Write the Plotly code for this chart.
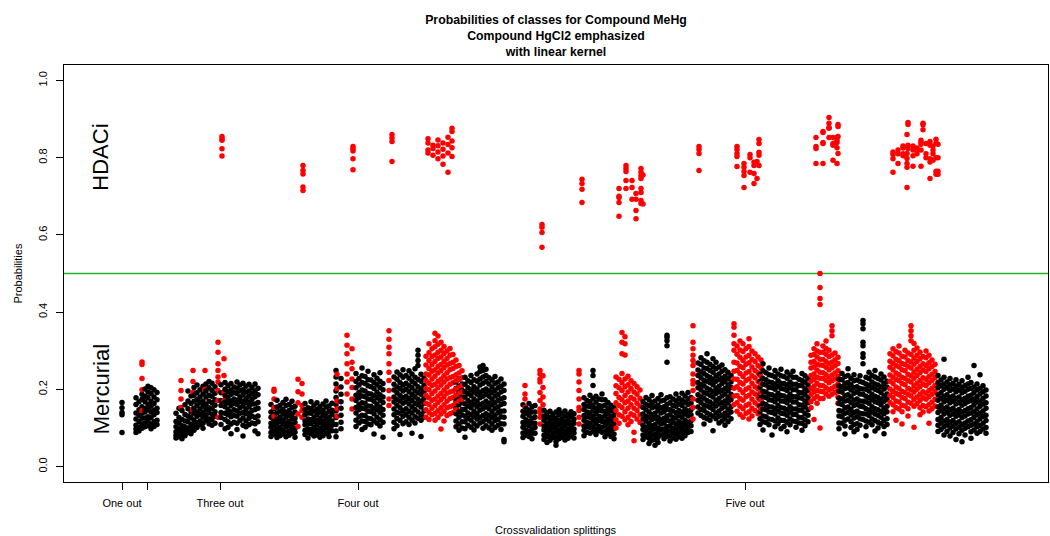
import plotly.graph_objects as go

# ---------------- data (x = position along the splitting axis, y = probability x 1000) ------------
TICK_POS = [122, 147, 220, 358, 745]
TICK_TEXT = ["One out", "", "Three out", "Four out", "Five out"]
Y_TICKS = [0.0, 0.2, 0.4, 0.6, 0.8, 1.0]
Y_TICK_TEXT = ["0.0", "0.2", "0.4", "0.6", "0.8", "1.0"]
X_RANGE = [64, 1048]
Y_RANGE = [-0.04, 1.04]
THRESHOLD = 0.5

one_out_black = [(122, [166, 152, 140, 134, 88])]
one_out_red = []

two_out_black = [
    (136, [178, 161, 139, 123, 107, 97, 88]),
    (139, [168, 147, 133, 116, 102, 92]),
    (142, [187, 174, 155, 138, 125, 110, 99]),
    (145, [201, 182, 168, 150, 141, 126, 113, 103]),
    (148, [208, 193, 178, 160, 147, 129, 120, 106]),
    (151, [204, 189, 169, 156, 141, 127, 110, 98]),
    (154, [199, 180, 163, 146, 134, 116, 104]),
    (157, [192, 173, 151, 140, 120, 109]),
]
two_out_red = [(142, [271, 264, 228, 199, 145])]

three_out_black = [
    (176, [138, 117, 103, 90, 81, 74]),
    (179, [151, 127, 113, 98, 87, 77]),
    (182, [145, 122, 106, 96, 83, 72]),
    (185, [160, 135, 118, 103, 93, 80]),
    (188, [196, 170, 150, 130, 116, 99, 88]),
    (191, [183, 163, 141, 127, 109, 98, 85]),
    (194, [205, 185, 169, 151, 138, 120, 107, 94]),
    (197, [211, 191, 173, 159, 142, 130, 113, 101]),
    (200, [199, 180, 166, 149, 135, 118, 108]),
    (203, [208, 188, 169, 156, 140, 128, 112, 99]),
    (206, [214, 196, 180, 160, 147, 132, 119]),
    (209, [220, 204, 185, 169, 152, 140, 123, 111]),
    (212, [216, 197, 182, 165, 151, 135, 122, 107]),
    (215, [207, 190, 173, 159, 142, 130, 112]),
    (221, [212, 191, 171, 158, 140, 127, 109]),
    (225, [218, 200, 184, 167, 155, 138, 122, 98]),
    (228, [209, 194, 178, 165, 148, 134, 116, 102]),
    (231, [215, 198, 187, 170, 158, 141, 129, 110, 85]),
    (234, [206, 191, 175, 163, 147, 132, 115]),
    (237, [219, 203, 189, 172, 161, 144, 130, 112, 96]),
    (240, [211, 197, 180, 168, 152, 138, 119]),
    (243, [216, 199, 186, 169, 157, 140, 126, 107, 79]),
    (246, [208, 193, 177, 165, 149, 137, 118, 103]),
    (249, [213, 196, 183, 167, 155, 138, 125, 108]),
    (252, [205, 190, 174, 162, 145, 131, 113]),
    (255, [214, 195, 181, 162, 148, 127, 111, 92]),
    (258, [203, 186, 166, 151, 131, 116, 85]),
]
three_out_red = [
    (181, [223, 197, 175, 153]),
    (193, [249, 220, 192, 150, 142]),
    (205, [249, 200]),
    (218, [322, 296, 266, 249, 232, 219, 197, 171, 128]),
    (224, [279, 236, 192, 171]),
    (222, [855, 849, 845, 823, 804]),
]

four_out_black = [
    (271, [161, 141, 128, 112, 102, 88, 78]),
    (274, [150, 135, 118, 107, 93, 84]),
    (277, [172, 154, 139, 123, 112, 98, 87, 75]),
    (280, [158, 144, 128, 117, 102, 92, 80]),
    (283, [166, 148, 136, 120, 110, 95, 84]),
    (286, [174, 158, 140, 128, 113, 103, 89, 77]),
    (289, [161, 145, 132, 117, 106, 92, 81]),
    (292, [169, 153, 136, 124, 109, 99, 86]),
    (295, [156, 141, 125, 114, 99, 89, 76]),
    (305, [163, 147, 134, 118, 108, 94, 83]),
    (308, [152, 139, 123, 112, 98, 88, 74]),
    (311, [168, 150, 138, 121, 111, 96, 85]),
    (314, [159, 144, 128, 117, 102, 92, 79]),
    (317, [165, 148, 135, 119, 109, 94, 82]),
    (320, [155, 141, 125, 114, 99, 89, 76]),
    (323, [162, 145, 132, 117, 106, 92, 80]),
    (326, [170, 154, 137, 125, 111, 100, 86]),
    (329, [157, 143, 127, 115, 101, 91, 78]),
    (332, [164, 146, 134, 118, 107, 93]),
    (336, [249, 232, 214, 196, 179, 161, 144, 127, 109, 92, 77]),
    (341, [228, 206, 187, 168, 151, 133, 115, 98]),
    (356, [241, 220, 204, 185, 171, 153, 139, 120, 104]),
    (359, [228, 211, 192, 178, 160, 147, 129, 113]),
    (362, [255, 235, 218, 198, 183, 165, 151, 133, 118, 96]),
    (365, [233, 215, 196, 181, 164, 150, 132, 117, 101]),
    (368, [247, 225, 209, 189, 175, 157, 143, 125, 110]),
    (371, [224, 207, 188, 174, 156, 142, 124, 108]),
    (374, [238, 218, 202, 184, 169, 151, 137, 118, 84]),
    (377, [229, 212, 193, 179, 161, 147, 128, 112]),
    (380, [243, 221, 205, 186, 172, 154, 140, 121, 105]),
    (383, [215, 199, 180, 166, 148, 133, 115, 76]),
    (394, [232, 213, 198, 180, 167, 149, 134, 115, 98]),
    (397, [245, 226, 206, 191, 173, 159, 140, 125, 106]),
    (400, [238, 218, 202, 184, 170, 152, 138, 119, 83]),
    (403, [251, 231, 211, 196, 178, 164, 145, 130, 111]),
    (406, [236, 216, 200, 182, 168, 150, 135, 116]),
    (409, [248, 229, 209, 194, 176, 162, 143, 128, 109]),
    (412, [240, 220, 204, 186, 172, 154, 139, 120, 86]),
    (415, [253, 231, 215, 196, 181, 163, 148, 129, 113]),
    (418, [301, 288, 275, 262, 226, 207, 192, 174, 160, 141, 125]),
    (421, [239, 221, 201, 187, 169, 154, 135, 120, 78]),
    (424, [229, 210, 195, 177, 163, 144, 128]),
    (456, [219, 202, 183, 169, 151, 137, 118, 103]),
    (459, [227, 208, 192, 174, 160, 142, 128, 110, 94]),
    (462, [214, 198, 180, 166, 148, 134, 116, 100]),
    (465, [231, 213, 194, 180, 162, 148, 130, 116, 98, 76]),
    (468, [222, 204, 189, 171, 157, 139, 125, 107]),
    (471, [236, 218, 198, 184, 166, 152, 134, 120, 102]),
    (474, [225, 207, 193, 175, 161, 143, 129, 111, 95]),
    (477, [240, 221, 201, 187, 169, 155, 137, 123, 105]),
    (480, [258, 246, 227, 211, 192, 178, 160, 146, 128, 113]),
    (483, [262, 249, 232, 216, 197, 182, 164, 150, 132, 117, 99]),
    (486, [252, 236, 220, 201, 187, 169, 155, 137, 123, 106]),
    (489, [230, 214, 196, 182, 164, 150, 132, 118, 100]),
    (492, [224, 206, 192, 174, 160, 142, 128, 110, 94]),
    (495, [233, 216, 197, 183, 165, 151, 133, 119, 101]),
    (498, [219, 204, 186, 172, 154, 140, 122, 107]),
    (501, [227, 208, 193, 175, 161, 143, 129, 111, 96]),
    (504, [214, 197, 178, 163, 144, 128, 110, 70, 64]),
]
four_out_red = [
    (274, [200, 195, 175, 153, 130]),
    (298, [226, 194, 165, 136, 104]),
    (302, [215, 188, 158, 145, 128]),
    (337, [239, 202, 170, 150, 130]),
    (347, [340, 314, 292, 266, 240, 219, 188]),
    (352, [305, 270, 253, 227, 205, 175, 149]),
    (389, [352, 330, 309, 292, 266, 244, 223, 197, 175, 158]),
    (426, [286, 263, 240, 223, 202, 185, 164, 147, 128]),
    (429, [318, 295, 275, 254, 237, 216, 199, 178, 161, 140, 122]),
    (432, [305, 285, 264, 247, 227, 210, 189, 172, 151, 134]),
    (435, [345, 326, 310, 289, 272, 251, 234, 213, 196, 175, 158, 138, 120]),
    (438, [338, 317, 296, 280, 259, 242, 221, 204, 183, 166, 145, 127]),
    (441, [322, 301, 284, 264, 248, 227, 211, 190, 173, 152, 136, 97]),
    (444, [311, 293, 272, 256, 235, 219, 198, 181, 160, 143, 118]),
    (447, [299, 280, 263, 243, 227, 206, 190, 169, 152, 132]),
    (450, [306, 288, 267, 251, 230, 213, 193, 176, 155, 137]),
    (453, [290, 270, 254, 233, 217, 196, 179, 158, 140]),
    (456, [276, 259, 238, 222, 201, 185, 164, 147]),
    (459, [262, 242, 226, 205, 189, 169]),
    (462, [248, 230, 210, 193, 174]),
    (303, [780, 767, 758, 724, 715]),
    (353, [829, 823, 817, 797, 769]),
    (392, [860, 851, 842, 790]),
    (428, [849, 838, 820, 812]),
    (433, [832, 824, 806]),
    (438, [846, 831, 815, 797]),
    (443, [838, 822, 804, 783]),
    (448, [853, 834, 812, 762]),
    (452, [876, 868, 843, 826, 803]),
]

five_out_black = [
    (523, [160, 143, 130, 114, 102, 87, 75]),
    (526, [151, 138, 121, 109, 94, 82]),
    (529, [163, 146, 133, 117, 105, 90, 78]),
    (532, [155, 141, 125, 112, 97, 86, 72]),
    (535, [158, 141, 128, 112, 101, 86]),
    (544, [146, 131, 120, 105, 95, 81, 70]),
    (547, [139, 127, 112, 102, 88, 78, 62]),
    (550, [143, 128, 117, 103, 93, 79, 68]),
    (553, [136, 124, 110, 100, 86, 75]),
    (556, [141, 126, 115, 101, 91, 77, 65, 55]),
    (559, [147, 135, 120, 109, 95, 85, 72]),
    (562, [138, 124, 113, 99, 89, 76]),
    (565, [144, 131, 116, 106, 92, 82, 69]),
    (568, [135, 121, 110, 96, 86, 73]),
    (571, [142, 129, 114, 104, 90, 79]),
    (574, [137, 123, 112, 97, 87, 74]),
    (584, [178, 161, 148, 132, 120, 105, 94, 80]),
    (587, [171, 157, 141, 129, 114, 103, 89]),
    (590, [185, 168, 155, 139, 127, 112, 101, 86]),
    (593, [249, 236, 210, 176, 159, 146, 130, 118, 103, 91]),
    (596, [182, 167, 150, 138, 122, 111, 96, 83]),
    (599, [175, 158, 146, 130, 119, 104, 93]),
    (602, [188, 173, 156, 144, 128, 117, 102, 89]),
    (605, [173, 159, 143, 131, 116, 105, 90, 77]),
    (608, [166, 150, 138, 123, 112, 97, 85]),
    (611, [159, 145, 129, 118, 103, 92, 78]),
    (614, [152, 137, 125, 110, 99, 84, 72]),
    (643, [168, 153, 136, 123, 107, 96, 82, 70]),
    (646, [179, 161, 147, 130, 118, 102, 90, 77]),
    (649, [173, 158, 141, 128, 112, 100, 86, 73, 60]),
    (652, [184, 166, 152, 135, 122, 106, 94, 81, 68]),
    (655, [170, 155, 138, 125, 109, 97, 83, 70, 55]),
    (658, [176, 159, 145, 128, 116, 100, 88, 75, 62]),
    (661, [186, 170, 152, 139, 122, 110, 96, 82]),
    (664, [172, 155, 142, 125, 113, 97, 85, 72]),
    (667, [340, 335, 326, 313, 270, 178, 161, 148, 131, 119, 103, 91, 78]),
    (670, [181, 165, 147, 134, 118, 106, 92, 79, 66]),
    (673, [175, 158, 144, 127, 115, 99, 87, 74]),
    (676, [188, 170, 156, 139, 126, 110, 97, 84, 71]),
    (679, [177, 162, 145, 132, 116, 104, 90, 77]),
    (682, [190, 172, 158, 141, 128, 112, 99, 86, 73]),
    (685, [183, 167, 149, 136, 119, 107, 93, 80]),
    (688, [192, 175, 161, 144, 131, 115, 102, 88]),
    (691, [179, 164, 147, 134, 118, 106, 91]),
    (698, [268, 250, 236, 218, 204, 186, 172, 154, 139]),
    (701, [282, 264, 245, 230, 212, 198, 180, 166, 148, 132]),
    (704, [274, 255, 241, 223, 209, 191, 177, 159, 145, 127, 110]),
    (707, [292, 270, 254, 235, 221, 203, 189, 171, 157, 139, 124]),
    (710, [265, 249, 231, 217, 199, 185, 167, 153, 135, 120]),
    (713, [279, 259, 244, 226, 212, 194, 180, 162, 148, 130, 93]),
    (716, [270, 253, 235, 221, 203, 189, 171, 157, 139, 124]),
    (719, [258, 240, 226, 208, 194, 176, 162, 144, 130, 113]),
    (722, [263, 247, 229, 215, 197, 183, 165, 151, 133, 118]),
    (725, [251, 234, 220, 202, 188, 170, 156, 138, 124, 107]),
    (728, [244, 229, 211, 197, 179, 165, 147, 133, 116]),
    (731, [236, 219, 205, 187, 173, 155, 141, 124]),
    (760, [238, 220, 206, 188, 174, 156, 142, 124, 109]),
    (763, [266, 248, 228, 213, 195, 181, 163, 149, 131, 116, 95]),
    (766, [243, 225, 211, 193, 179, 161, 147, 129, 114]),
    (769, [255, 238, 219, 205, 187, 173, 155, 141, 123, 108]),
    (772, [236, 218, 204, 186, 172, 154, 140, 122, 82]),
    (775, [249, 232, 214, 200, 182, 168, 150, 136, 118, 103]),
    (778, [240, 222, 208, 190, 176, 158, 144, 126, 111]),
    (781, [252, 235, 216, 202, 184, 170, 152, 138, 120, 98]),
    (784, [233, 215, 201, 183, 169, 151, 137, 119, 104]),
    (787, [245, 229, 211, 197, 179, 165, 147, 133, 115, 90]),
    (790, [237, 219, 205, 187, 173, 155, 141, 123, 108]),
    (793, [247, 231, 213, 199, 181, 167, 149, 135, 118]),
    (796, [231, 213, 199, 181, 167, 149, 135, 117, 102]),
    (799, [226, 210, 192, 178, 160, 146, 128, 113]),
    (802, [241, 223, 209, 191, 177, 159, 145, 127, 112, 94]),
    (805, [235, 219, 201, 187, 169, 155, 137, 121, 106]),
    (808, [229, 211, 197, 179, 165, 147, 133, 116]),
    (839, [226, 209, 195, 177, 163, 145, 131, 113, 98]),
    (842, [241, 225, 207, 193, 175, 161, 143, 129, 112]),
    (845, [233, 216, 202, 184, 170, 152, 138, 120, 105, 84]),
    (848, [253, 236, 218, 204, 186, 172, 154, 140, 123]),
    (851, [229, 212, 198, 180, 166, 148, 134, 116, 101]),
    (854, [238, 222, 204, 190, 172, 158, 140, 126, 109, 90]),
    (857, [224, 207, 193, 175, 161, 143, 129, 111, 96]),
    (860, [235, 220, 202, 188, 170, 156, 138, 124, 107]),
    (863, [378, 370, 357, 322, 313, 292, 283, 266, 218, 201, 187, 169, 155, 137, 122]),
    (866, [231, 214, 200, 182, 168, 150, 136, 118, 103, 80]),
    (869, [244, 228, 210, 196, 178, 164, 146, 132, 115]),
    (872, [236, 219, 205, 187, 173, 155, 141, 123, 108]),
    (875, [249, 232, 214, 200, 182, 168, 150, 136, 119, 92]),
    (878, [228, 211, 197, 179, 165, 147, 133, 115, 100]),
    (881, [240, 224, 206, 192, 174, 160, 142, 128, 111]),
    (884, [232, 215, 201, 183, 169, 151, 137, 119, 104, 85]),
    (887, [221, 206, 188, 174, 156, 142, 124, 109]),
    (938, [236, 218, 204, 186, 172, 154, 140, 122, 107, 91]),
    (941, [224, 209, 191, 177, 159, 145, 127, 113, 96]),
    (944, [278, 231, 214, 200, 182, 168, 150, 136, 118, 103, 82]),
    (947, [219, 204, 186, 172, 154, 140, 122, 108, 91]),
    (950, [228, 211, 197, 179, 165, 147, 133, 115, 100, 79]),
    (953, [216, 201, 183, 169, 151, 137, 119, 105, 88]),
    (956, [225, 208, 194, 176, 162, 144, 130, 112, 97, 70]),
    (959, [213, 198, 180, 166, 148, 134, 116, 102, 85]),
    (962, [222, 205, 191, 173, 159, 141, 127, 109, 94, 64]),
    (965, [210, 195, 177, 163, 145, 131, 113, 99, 82]),
    (968, [231, 214, 200, 182, 168, 150, 136, 118, 103]),
    (971, [218, 203, 185, 171, 153, 139, 121, 107, 90, 73]),
    (974, [262, 206, 192, 174, 160, 142, 128, 110, 95]),
    (977, [214, 199, 181, 167, 149, 135, 117, 103, 86]),
    (980, [238, 202, 188, 170, 156, 138, 124, 106, 91]),
    (983, [209, 194, 176, 162, 144, 130, 112, 97]),
    (986, [198, 183, 165, 151, 133, 119, 101, 86]),
]
five_out_red = [
    (525, [210, 188, 175, 153]),
    (540, [249, 240, 227, 219, 192, 171, 149, 140, 128, 110]),
    (543, [235, 205, 180, 160]),
    (579, [249, 240, 219, 197, 175, 153, 145, 128, 110]),
    (616, [232, 209, 189, 165, 145, 121, 100]),
    (619, [226, 204, 179, 158, 134, 112]),
    (622, [347, 322, 292, 241, 217, 197, 173, 153, 130]),
    (625, [336, 318, 289, 227, 207, 184, 165, 142, 121]),
    (628, [234, 212, 193, 170, 151, 128, 108]),
    (631, [222, 202, 179, 160, 137, 117]),
    (634, [215, 193, 174, 151, 132, 89, 67]),
    (637, [207, 187, 164, 145, 123]),
    (640, [198, 176, 157, 134, 114]),
    (693, [365, 322, 305, 288, 275, 262, 240, 223, 214, 197, 175, 153, 123]),
    (734, [370, 361, 340, 318, 301, 270, 247, 227, 203, 183, 160]),
    (737, [312, 291, 268, 249, 226, 207, 184, 165, 143]),
    (740, [325, 302, 283, 260, 241, 218, 199, 176, 156, 135]),
    (743, [318, 298, 275, 256, 233, 214, 191, 172, 150, 128]),
    (746, [306, 284, 265, 242, 223, 200, 181, 158, 138]),
    (749, [331, 311, 288, 269, 246, 227, 204, 185, 162, 142, 123]),
    (752, [299, 277, 258, 235, 216, 193, 174, 151, 131]),
    (755, [292, 272, 249, 230, 207, 188, 165, 145]),
    (758, [284, 262, 243, 220, 201, 178, 159, 137]),
    (761, [276, 256, 233, 214, 191, 172, 150]),
    (811, [288, 270, 255, 236, 221, 202, 187, 168, 152]),
    (814, [305, 290, 272, 258, 240, 226, 208, 194, 176, 122]),
    (817, [318, 299, 284, 265, 250, 231, 216, 197, 182, 164]),
    (820, [500, 464, 435, 420, 296, 278, 263, 244, 229, 210, 195, 176, 100]),
    (823, [312, 296, 277, 262, 243, 228, 209, 194, 176]),
    (826, [325, 306, 291, 272, 257, 238, 223, 204, 188]),
    (829, [301, 285, 266, 251, 232, 217, 198, 182]),
    (832, [365, 352, 339, 289, 271, 256, 237, 222, 203, 187]),
    (835, [294, 276, 261, 242, 227, 208, 192]),
    (838, [283, 267, 248, 233, 214, 199, 180, 164]),
    (890, [292, 273, 257, 237, 221, 201, 185, 166]),
    (893, [305, 287, 267, 251, 231, 215, 195, 179, 160, 142]),
    (896, [298, 278, 262, 242, 226, 206, 190, 170, 153, 120]),
    (899, [312, 294, 274, 258, 238, 222, 202, 186, 167, 149]),
    (902, [286, 267, 251, 231, 215, 195, 179, 159, 142, 110]),
    (905, [301, 284, 264, 248, 228, 212, 192, 176, 157]),
    (908, [294, 275, 259, 239, 223, 203, 187, 167, 150, 131]),
    (911, [365, 352, 339, 326, 290, 271, 255, 235, 219, 199, 183, 164]),
    (914, [319, 301, 281, 265, 245, 229, 209, 193, 174, 156, 102]),
    (917, [307, 288, 272, 252, 236, 216, 200, 180, 163]),
    (920, [296, 279, 259, 243, 223, 207, 187, 171, 152, 134]),
    (923, [285, 266, 250, 230, 214, 194, 178, 158, 141]),
    (926, [299, 282, 262, 246, 226, 210, 190, 174, 155]),
    (929, [288, 269, 253, 233, 217, 197, 181, 161, 144, 112]),
    (932, [276, 259, 239, 223, 203, 187, 167, 150]),
    (935, [265, 246, 230, 210, 194, 174, 157]),
    (542, [627, 620, 606, 568]),
    (582, [744, 733, 718, 684]),
    (619, [720, 700, 697, 684, 648]),
    (626, [780, 772, 764, 741, 720]),
    (632, [741, 723, 692]),
    (636, [707, 692, 663, 642]),
    (641, [772, 762, 754, 746, 720, 710, 689, 681]),
    (643, [755, 680]),
    (699, [829, 821, 811, 767]),
    (737, [829, 821, 811, 803, 777]),
    (744, [785, 775, 764, 754, 723]),
    (750, [808, 800, 762]),
    (754, [788, 780, 759, 733]),
    (757, [790, 746]),
    (759, [847, 837, 814, 806, 780]),
    (816, [852, 829, 824, 785]),
    (823, [868, 865, 839, 837, 785]),
    (829, [904, 889, 878, 876, 852]),
    (833, [852, 837, 832, 793]),
    (837, [852, 845, 839, 826, 785]),
    (838, [886, 881, 855, 811]),
    (893, [815, 808, 797, 762]),
    (898, [820, 810, 785]),
    (903, [830, 825, 810, 805]),
    (907, [860, 811, 798, 785, 775, 723]),
    (908, [891, 886, 832, 824]),
    (913, [830, 820, 805, 778]),
    (917, [825, 818, 810]),
    (921, [845, 840, 835, 820, 778]),
    (923, [889, 885, 872]),
    (926, [837, 810, 800]),
    (930, [842, 832, 797, 789, 746]),
    (933, [830, 820, 810, 793]),
    (936, [848, 838, 800, 765, 757]),
    (938, [835, 800, 765, 757]),
]

black_groups = [one_out_black, two_out_black, three_out_black, four_out_black, five_out_black]
red_groups = [one_out_red, two_out_red, three_out_red, four_out_red, five_out_red]


def collect(groups, colour):
    pts = []
    for g in groups:
        for xpos, vals in g:
            for v in vals:
                pts.append((xpos, v / 1000.0, colour))
    return pts


# draw sample by sample along the axis, so overlapping colours interleave as in the original
points = sorted(collect(black_groups, "black") + collect(red_groups, "red"), key=lambda p: p[0])
px = [p[0] for p in points]
py = [p[1] for p in points]
pc = [p[2] for p in points]

FONT = "Liberation Sans, Arial, Helvetica, sans-serif"

fig = go.Figure()
# decision threshold at 0.5, drawn across the whole axis range
fig.add_trace(go.Scatter(x=X_RANGE, y=[THRESHOLD, THRESHOLD], mode="lines",
                         line=dict(color="#22b422", width=1.6),
                         showlegend=False, hoverinfo="skip"))
fig.add_trace(go.Scatter(x=px, y=py, mode="markers",
                         marker=dict(color=pc, size=5.5, line=dict(width=0)),
                         showlegend=False, hoverinfo="skip"))

fig.update_layout(
    width=1050, height=536,
    margin=dict(l=64, r=2, t=65, b=54, autoexpand=False),
    paper_bgcolor="white", plot_bgcolor="white",
    font=dict(family=FONT, color="black", size=11),
    title=dict(text="<b>Probabilities of classes for Compound MeHg<br>Compound HgCl2 emphasized<br>with linear kernel</b>",
               x=0.5, xref="paper", xanchor="center",
               y=1 - 24 / 536, yref="container", yanchor="top",
               font=dict(size=12.3, family=FONT, color="black")),
    xaxis=dict(range=X_RANGE, showgrid=False, zeroline=False, automargin=False,
               showline=True, linecolor="black", linewidth=1, mirror=True,
               ticks="outside", ticklen=7, tickcolor="black",
               tickvals=TICK_POS, ticktext=TICK_TEXT, ticklabelstandoff=4,
               tickfont=dict(size=11, family=FONT, color="black")),
    yaxis=dict(range=Y_RANGE, showgrid=False, zeroline=False, automargin=False,
               showline=True, linecolor="black", linewidth=1, mirror=True,
               ticks="outside", ticklen=7, tickcolor="black",
               tickvals=Y_TICKS, ticktext=Y_TICK_TEXT, tickangle=-90, ticklabelstandoff=5,
               tickfont=dict(size=11, family=FONT, color="black")),
)

fig.add_annotation(text="Crossvalidation splittings", xref="paper", yref="paper",
                   x=0.5, y=-(530 - 482) / 417, xanchor="center", yanchor="middle",
                   showarrow=False, font=dict(size=11, family=FONT, color="black"))
fig.add_annotation(text="Probabilities", xref="paper", yref="paper",
                   x=(17 - 64) / 984, y=0.5, xanchor="center", yanchor="middle",
                   textangle=-90, showarrow=False, font=dict(size=11, family=FONT, color="black"))
fig.add_annotation(text="HDACi", xref="x", yref="y", x=101, y=0.8,
                   xanchor="center", yanchor="middle", textangle=-90, showarrow=False,
                   font=dict(size=22, family=FONT, color="black"))
fig.add_annotation(text="Mercurial", xref="x", yref="y", x=101, y=0.2,
                   xanchor="center", yanchor="middle", textangle=-90, showarrow=False,
                   font=dict(size=22, family=FONT, color="black"))

fig.write_html("out.html", config={"displayModeBar": False},
               post_script="document.body.style.margin='0';document.body.style.overflow='hidden';")
